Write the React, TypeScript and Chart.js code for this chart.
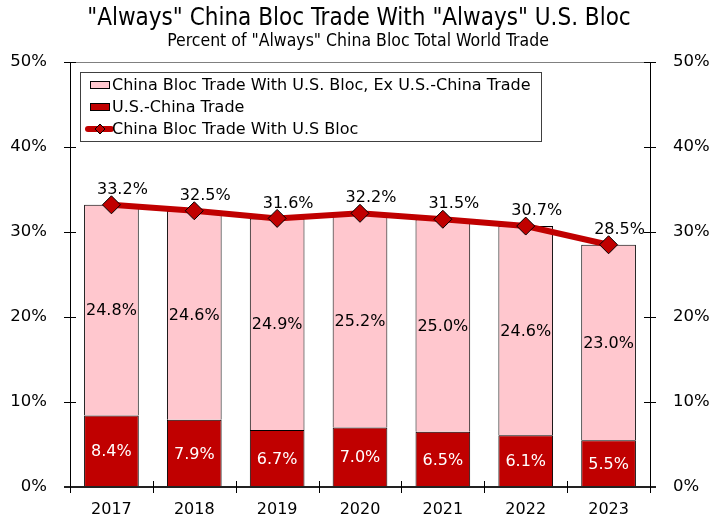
import React, { useEffect, useRef } from "react";
import { Chart, registerables } from "chart.js";

Chart.register(...registerables);

const years = ["2017", "2018", "2019", "2020", "2021", "2022", "2023"];
const usChina = [8.4, 7.9, 6.7, 7.0, 6.5, 6.1, 5.5];
const exUsChina = [24.8, 24.6, 24.9, 25.2, 25.0, 24.6, 23.0];
const totalBloc = [33.2, 32.5, 31.6, 32.2, 31.5, 30.7, 28.5];
const yTicks = [0, 10, 20, 30, 40, 50];

const titleText = '"Always" China Bloc Trade With "Always" U.S. Bloc';
const subtitleText = 'Percent of "Always" China Bloc Total World Trade';
const legendLabels = [
  "China Bloc Trade With U.S. Bloc, Ex U.S.-China Trade",
  "U.S.-China Trade",
  "China Bloc Trade With U.S Bloc",
];

const PINK = "#FFC7CE";
const RED = "#C00000";
const FONT = "'DejaVu Sans', Verdana, sans-serif";
const COND = "'DejaVu Sans Condensed', 'DejaVu Sans', sans-serif";

const decor = {
  id: "decor",
  afterDraw(chart: any) {
    const ctx = chart.ctx;
    const { left, right, top, bottom } = chart.chartArea;
    const ys = chart.scales.y;
    ctx.save();
    // titles
    ctx.fillStyle = "#000";
    ctx.textAlign = "center";
    ctx.textBaseline = "middle";
    ctx.font = `24px ${COND}`;
    ctx.fillText(titleText, 359, 19);
    ctx.font = `17.5px ${COND}`;
    ctx.fillText(subtitleText, 358, 41);

    // frame
    ctx.strokeStyle = "#808080";
    ctx.lineWidth = 1;
    ctx.beginPath();
    ctx.moveTo(left, top + 0.5);
    ctx.lineTo(right, top + 0.5);
    ctx.stroke();
    ctx.strokeStyle = "#000";
    ctx.beginPath();
    ctx.moveTo(left + 0.5, top);
    ctx.lineTo(left + 0.5, bottom);
    ctx.moveTo(right + 0.5, top);
    ctx.lineTo(right + 0.5, bottom);
    ctx.stroke();
    // y ticks
    yTicks.forEach((v) => {
      const py = Math.round(ys.getPixelForValue(v)) + 0.5;
      ctx.beginPath();
      ctx.moveTo(left - 6, py);
      ctx.lineTo(left + 6, py);
      ctx.moveTo(right - 6, py);
      ctx.lineTo(right + 6, py);
      ctx.stroke();
    });
    // x axis
    ctx.strokeStyle = "#222";
    ctx.lineWidth = 2;
    ctx.beginPath();
    ctx.moveTo(left - 6, bottom);
    ctx.lineTo(right + 6, bottom);
    ctx.stroke();
    ctx.lineWidth = 1;
    ctx.strokeStyle = "#000";
    const n = years.length;
    for (let i = 0; i <= n; i++) {
      const px = Math.round(left + ((right - left) * i) / n) + 0.5;
      ctx.beginPath();
      ctx.moveTo(px, bottom - 6);
      ctx.lineTo(px, bottom + 6);
      ctx.stroke();
    }

    // data labels
    ctx.font = `16px ${FONT}`;
    ctx.textAlign = "center";
    ctx.textBaseline = "middle";
    const metaRed = chart.getDatasetMeta(1);
    const metaPink = chart.getDatasetMeta(2);
    const metaLine = chart.getDatasetMeta(0);
    years.forEach((_, i) => {
      const y0 = ys.getPixelForValue(0);
      const y1 = ys.getPixelForValue(usChina[i]);
      const y2 = ys.getPixelForValue(usChina[i] + exUsChina[i]);
      ctx.fillStyle = "#fff";
      ctx.fillText(usChina[i].toFixed(1) + "%", metaRed.data[i].x, (y0 + y1) / 2 + 1);
      ctx.fillStyle = "#000";
      ctx.fillText(exUsChina[i].toFixed(1) + "%", metaPink.data[i].x, (y1 + y2) / 2 + 1);
      const p = metaLine.data[i];
      ctx.fillText(totalBloc[i].toFixed(1) + "%", p.x + 11, p.y - 15);
    });

    // legend
    const lx = 80, ly = 72, lw = 461, lh = 69;
    ctx.fillStyle = "#fff";
    ctx.fillRect(lx, ly, lw, lh);
    ctx.strokeStyle = "#404040";
    ctx.lineWidth = 1;
    ctx.strokeRect(lx + 0.5, ly + 0.5, lw, lh);
    ctx.font = `16px ${FONT}`;
    ctx.textAlign = "left";
    ctx.textBaseline = "middle";
    const rows = [85, 107, 129];
    ctx.fillStyle = PINK;
    ctx.fillRect(90, rows[0] - 4, 20, 8);
    ctx.strokeStyle = "#000";
    ctx.strokeRect(90.5, rows[0] - 3.5, 19, 7);
    ctx.fillStyle = RED;
    ctx.fillRect(90, rows[1] - 4, 20, 8);
    ctx.strokeRect(90.5, rows[1] - 3.5, 19, 7);
    ctx.strokeStyle = RED;
    ctx.lineWidth = 6;
    ctx.lineCap = "round";
    ctx.beginPath();
    ctx.moveTo(88, rows[2]);
    ctx.lineTo(111, rows[2]);
    ctx.stroke();
    ctx.lineCap = "butt";
    ctx.lineWidth = 1;
    ctx.fillStyle = RED;
    ctx.strokeStyle = "#000";
    ctx.beginPath();
    ctx.moveTo(100, rows[2] - 5);
    ctx.lineTo(105, rows[2]);
    ctx.lineTo(100, rows[2] + 5);
    ctx.lineTo(95, rows[2]);
    ctx.closePath();
    ctx.fill();
    ctx.stroke();
    ctx.fillStyle = "#000";
    legendLabels.forEach((t, i) => ctx.fillText(t, 112, rows[i] + 1));
    ctx.restore();
  },
};

export default function App() {
  const ref = useRef<HTMLCanvasElement | null>(null);
  useEffect(() => {
    document.body.style.margin = "0";
    const c = ref.current!;
    const chart = new Chart(c, {
      type: "bar",
      data: {
        labels: years,
        datasets: [
          {
            type: "line",
            label: legendLabels[2],
            data: totalBloc,
            yAxisID: "y2",
            borderColor: RED,
            backgroundColor: RED,
            borderWidth: 6,
            pointStyle: "rectRot",
            pointRadius: 9,
            pointBackgroundColor: RED,
            pointBorderColor: "#000",
            pointBorderWidth: 1,
            order: 0,
          } as any,
          {
            label: legendLabels[1],
            data: usChina,
            yAxisID: "y",
            backgroundColor: RED,
            borderColor: "#000",
            borderWidth: 1,
            barPercentage: 0.66,
            categoryPercentage: 1,
            order: 1,
          },
          {
            label: legendLabels[0],
            data: exUsChina,
            yAxisID: "y",
            backgroundColor: PINK,
            borderColor: "#000",
            borderWidth: 1,
            barPercentage: 0.66,
            categoryPercentage: 1,
            order: 2,
          },
        ],
      },
      options: {
        responsive: false,
        devicePixelRatio: 1,
        animation: false,
        layout: { padding: { top: 62, left: 8, right: 0, bottom: 0 } },
        plugins: { legend: { display: false }, title: { display: false }, tooltip: { enabled: false } },
        scales: {
          x: {
            stacked: true,
            offset: true,
            grid: { display: false },
            border: { display: false },
            ticks: { color: "#000", font: { family: FONT, size: 16 }, padding: 5 },
            afterFit: (s: any) => { s.height = 31; },
          },
          y: {
            stacked: true,
            position: "left",
            min: 0,
            max: 50,
            grid: { display: false },
            border: { display: false },
            ticks: { stepSize: 10, color: "#000", font: { family: FONT, size: 16.5 }, padding: 15, callback: (v: any) => v + "%" },
            afterFit: (s: any) => { s.width = 62; },
          },
          y2: {
            position: "right",
            min: 0,
            max: 50,
            grid: { display: false },
            border: { display: false },
            ticks: { stepSize: 10, color: "#000", font: { family: FONT, size: 16.5 }, padding: 15, callback: (v: any) => v + "%" },
            afterFit: (s: any) => { s.width = 67; },
          },
        },
      },
      plugins: [decor],
    });
    return () => chart.destroy();
  }, []);
  return (
    <div style={{ width: 717, height: 518 }}>
      <canvas ref={ref} width={717} height={518} />
    </div>
  );
}
